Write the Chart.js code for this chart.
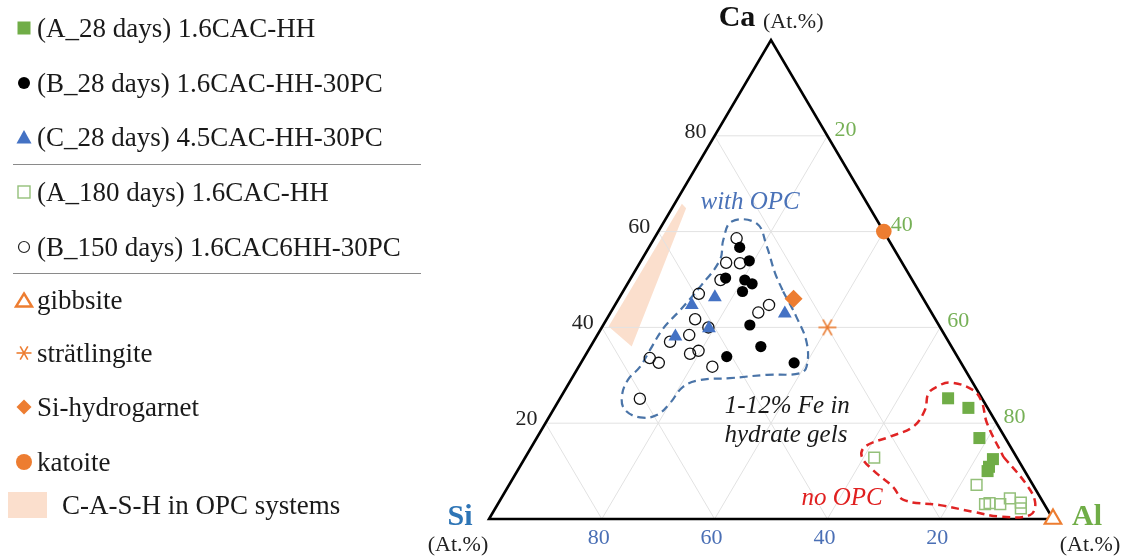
<!DOCTYPE html>
<html>
<head>
<meta charset="utf-8">
<script src="https://cdn.jsdelivr.net/npm/chart.js@4.4.1/dist/chart.umd.min.js"></script>
<style>
  html, body { margin: 0; padding: 0; background: #fff; }
  #wrap { position: relative; width: 1123px; height: 557px; overflow: hidden; font-family: 'Liberation Serif', 'Times New Roman', serif; }
  #ternary { position: absolute; left: 0; top: 0; }
  .key { position: absolute; left: 0; height: 30px; line-height: 30px; font-size: 27px; color: #1a1a1a; white-space: nowrap; }
  .key svg { position: absolute; top: 6px; }
  .key span { position: absolute; left: 37px; top: 0; }
  .rule { position: absolute; left: 13px; width: 408px; height: 0; border-top: 1.5px solid #8a8a8a; }
  .cash { position: absolute; left: 8px; top: 492px; width: 39px; height: 26px; background: #fbdfcd; }
</style>
</head>
<body>
<div id="wrap">
  <canvas id="ternary" width="1123" height="557"></canvas>

  <div class="key" style="top:13px">
    <svg width="18" height="18" style="left:15px"><rect x="2.5" y="2.5" width="13" height="13" fill="#70ad47"/></svg>
    <span>(A_28 days) 1.6CAC-HH</span>
  </div>
  <div class="key" style="top:68px">
    <svg width="18" height="18" style="left:15px"><circle cx="9" cy="9" r="6" fill="#000"/></svg>
    <span>(B_28 days) 1.6CAC-HH-30PC</span>
  </div>
  <div class="key" style="top:122px">
    <svg width="18" height="18" style="left:15px"><polygon points="9,2 16.5,15.5 1.5,15.5" fill="#4472c4"/></svg>
    <span>(C_28 days) 4.5CAC-HH-30PC</span>
  </div>
  <div class="rule" style="top:164px"></div>
  <div class="key" style="top:177px">
    <svg width="18" height="18" style="left:15px"><rect x="3" y="3" width="12" height="12" fill="none" stroke="#94c07a" stroke-width="1.4"/></svg>
    <span>(A_180 days) 1.6CAC-HH</span>
  </div>
  <div class="key" style="top:232px">
    <svg width="18" height="18" style="left:15px"><circle cx="9" cy="9" r="5.5" fill="none" stroke="#222" stroke-width="1.2"/></svg>
    <span>(B_150 days) 1.6CAC6HH-30PC</span>
  </div>
  <div class="rule" style="top:273px"></div>
  <div class="key" style="top:285px">
    <svg width="20" height="18" style="left:14px"><polygon points="10,2.5 18,15.5 2,15.5" fill="none" stroke="#ed7d31" stroke-width="2.4"/></svg>
    <span>gibbsite</span>
  </div>
  <div class="key" style="top:338px">
    <svg width="18" height="18" style="left:15px"><g stroke="#ed7d31" stroke-width="1.6"><line x1="1.5" y1="9" x2="16.5" y2="9"/><line x1="5.2" y1="2.4" x2="12.8" y2="15.6"/><line x1="12.8" y1="2.4" x2="5.2" y2="15.6"/></g></svg>
    <span>strätlingite</span>
  </div>
  <div class="key" style="top:392px">
    <svg width="18" height="18" style="left:15px"><polygon points="9,1.5 16.5,9 9,16.5 1.5,9" fill="#ed7d31"/></svg>
    <span>Si-hydrogarnet</span>
  </div>
  <div class="key" style="top:447px">
    <svg width="18" height="18" style="left:15px"><circle cx="9" cy="9" r="8" fill="#ed7d31"/></svg>
    <span>katoite</span>
  </div>
  <div class="cash"></div>
  <div class="key" style="top:490px"><span style="left:62px">C-A-S-H in OPC systems</span></div>
</div>

<script>
// Compositions in At.% : Ca and Al, Si is the remainder
const caA28 = [25.2, 23.2, 16.9, 12.5, 10.9, 10.0];
const alA28 = [68.8, 73.4, 78.5, 83.1, 83.2, 83.4];

const caB28 = [56.7, 53.9, 50.3, 49.9, 49.1, 47.5, 40.5, 36.0, 33.9, 32.6];
const alB28 = [16.1, 19.2, 16.8, 20.4, 22.1, 21.2, 26.0, 30.2, 25.2, 37.8];

const caC28 = [46.3, 44.7, 42.9, 39.8, 38.1];
const alC28 = [16.9, 13.6, 31.0, 19.1, 14.0];

const caA180 = [12.8, 7.1, 3.1, 3.3, 3.1, 4.3, 3.4, 2.2];
const alA180 = [61.9, 82.9, 86.4, 87.1, 89.1, 90.2, 92.6, 93.2];

const caB150 = [58.6, 53.5, 53.4, 49.9, 47.0, 44.7, 43.1, 41.7, 40.0, 38.4, 37.0, 35.1, 34.5, 31.8, 33.6, 32.6, 25.1];
const alB150 = [14.6, 15.3, 17.8, 16.1, 13.7, 27.3, 26.2, 15.7, 18.9, 16.3, 13.6, 19.6, 18.4, 23.7, 11.7, 13.8, 14.2];

// reference phases [Ca, Al]
const gibbsite = [0, 100];
const stratlingite = [40, 40];
const siHydrogarnet = [46, 31];
const katoite = [60, 40];

// C-A-S-H field of OPC systems
const cashCa = [65.8, 64.9, 36.0, 40.2];
const cashAl = [1.3, 2.5, 7.3, 1.1];

// outline of the hydrate gels with OPC
const withOpcCa = [47.5, 42.2, 36.7, 31.8, 30.4, 30.1, 29.4, 29.0, 27.6, 24.2, 21.7, 21.2, 22.8, 25.5, 29.0, 31.8, 35.3, 39.8, 43.6, 48.5, 54.1, 58.3, 62.1, 61.7, 56.9, 51.4];
const withOpcAl = [28.4, 33.4, 38.0, 40.4, 39.9, 34.2, 28.0, 22.9, 20.6, 20.0, 18.9, 16.2, 12.7, 10.8, 10.1, 10.9, 10.9, 11.0, 12.1, 13.2, 13.9, 12.4, 12.0, 16.6, 20.8, 25.0];

// outline of the gels without OPC
const noOpcCa = [13.0, 7.1, 3.3, 0.8, 0.5, 1.5, 2.9, 4.0, 6.7, 10.2, 13.0, 15.1, 17.2, 19.3, 22.8, 26.2, 27.6, 28.5, 26.9, 24.5, 20.0];
const noOpcAl = [84.7, 91.8, 95.2, 95.5, 90.4, 85.1, 78.5, 71.5, 68.3, 63.0, 59.6, 59.1, 62.5, 65.6, 65.9, 64.8, 65.6, 67.5, 72.4, 75.1, 78.3];

const tickValues = [20, 40, 60, 80];

// ternary (Ca, Al) -> cartesian with Si at the origin and Ca at the apex
function toXY(ca, al) {
  return { x: al + ca / 2, y: ca };
}

function points(caList, alList) {
  return caList.map((ca, i) => toXY(ca, alList[i]));
}

function closed(caList, alList) {
  const pts = points(caList, alList);
  pts.push(pts[0]);
  return pts;
}

function asteriskIcon(size, color) {
  const c = document.createElement('canvas');
  c.width = c.height = size;
  const g = c.getContext('2d');
  g.strokeStyle = color;
  g.lineWidth = 1.6;
  const m = size / 2, r = size / 2 - 1;
  for (let k = 0; k < 3; k++) {
    const a = k * Math.PI / 3;
    g.beginPath();
    g.moveTo(m - r * Math.cos(a), m - r * Math.sin(a));
    g.lineTo(m + r * Math.cos(a), m + r * Math.sin(a));
    g.stroke();
  }
  return c;
}

function gridLines() {
  const sets = [];
  tickValues.forEach(v => {
    sets.push([toXY(v, 0), toXY(v, 100 - v)]);       // constant Ca
    sets.push([toXY(0, v), toXY(100 - v, v)]);       // constant Al
    sets.push([toXY(0, 100 - v), toXY(100 - v, 0)]); // constant Si
  });
  return sets.map(data => ({
    type: 'line', data, borderColor: '#e2e2e2', borderWidth: 1,
    pointRadius: 0, fill: false, order: 5, clip: false
  }));
}

const serif = "'Liberation Serif', 'Times New Roman', serif";

const labelPlugin = {
  id: 'ternaryLabels',
  afterDatasetsDraw(chart) {
    const { ctx, scales: { x, y } } = chart;
    const px = (ca, al) => [x.getPixelForValue(al + ca / 2), y.getPixelForValue(ca)];
    ctx.save();
    ctx.textBaseline = 'middle';

    ctx.font = '22px ' + serif;
    tickValues.forEach(v => {
      // Ca along the left edge
      let [lx, ly] = px(v, 0);
      ctx.fillStyle = '#222';
      ctx.textAlign = 'right';
      ctx.fillText(String(v), lx - 8, ly - 4);

      // Al along the right edge
      [lx, ly] = px(100 - v, v);
      ctx.fillStyle = '#76b056';
      ctx.textAlign = 'left';
      ctx.fillText(String(v), lx + 7, ly - 6);

      // Si along the base
      [lx, ly] = px(0, 100 - v);
      ctx.fillStyle = '#4a6fb5';
      ctx.textAlign = 'center';
      ctx.fillText(String(v), lx - 3, ly + 19);
    });

    // vertex names
    const [cx, cy] = px(100, 0);
    const [sx, sy] = px(0, 0);
    const [ax, ay] = px(0, 100);
    ctx.font = 'bold 30px ' + serif;
    ctx.textAlign = 'center';
    ctx.fillStyle = '#111';
    ctx.fillText('Ca', cx - 34, cy - 22);
    ctx.fillStyle = '#2e75b6';
    ctx.fillText('Si', sx - 29, sy - 2);
    ctx.fillStyle = '#70ad47';
    ctx.fillText('Al', ax + 34, ay - 2);

    ctx.font = '22px ' + serif;
    ctx.fillStyle = '#222';
    ctx.textAlign = 'left';
    ctx.fillText('(At.%)', cx - 8, cy - 18);
    ctx.textAlign = 'center';
    ctx.fillText('(At.%)', sx - 31, sy + 26);
    ctx.fillText('(At.%)', ax + 37, ay + 26);

    // region notes
    ctx.font = 'italic 25px ' + serif;
    let p = px(66.0, 13.3);
    ctx.fillStyle = '#4a72b8';
    ctx.fillText('with OPC', p[0], p[1]);
    ctx.fillStyle = '#1a1a1a';
    p = px(23.4, 41.2);
    ctx.fillText('1-12% Fe in', p[0], p[1]);
    p = px(17.5, 43.9);
    ctx.fillText('hydrate gels', p[0], p[1]);
    ctx.fillStyle = '#e02020';
    p = px(4.4, 60.4);
    ctx.fillText('no OPC', p[0], p[1]);
    ctx.restore();
  }
};

const outlineBase = { type: 'line', pointRadius: 0, fill: false, clip: false, tension: 0.4, borderWidth: 2.2, borderDash: [8, 5] };
const markerBase = { clip: false, showLine: false, order: 0 };

new Chart(document.getElementById('ternary'), {
  type: 'scatter',
  data: {
    datasets: [
      { ...markerBase, label: '(A_28 days) 1.6CAC-HH', data: points(caA28, alA28),
        pointStyle: 'rect', pointRadius: 8.5, backgroundColor: '#70ad47', borderColor: '#70ad47', borderWidth: 0 },
      { ...markerBase, label: '(A_180 days) 1.6CAC-HH', data: points(caA180, alA180),
        pointStyle: 'rect', pointRadius: 7.6, backgroundColor: 'rgba(255,255,255,0)', borderColor: '#94c07a', borderWidth: 1.5 },
      { ...markerBase, label: '(B_28 days) 1.6CAC-HH-30PC', data: points(caB28, alB28),
        pointStyle: 'circle', pointRadius: 5.6, backgroundColor: '#000', borderColor: '#000', borderWidth: 0 },
      { ...markerBase, label: '(C_28 days) 4.5CAC-HH-30PC', data: points(caC28, alC28),
        pointStyle: 'triangle', pointRadius: 8, backgroundColor: '#4472c4', borderColor: '#4472c4', borderWidth: 0 },
      { ...markerBase, label: '(B_150 days) 1.6CAC6HH-30PC', data: points(caB150, alB150),
        pointStyle: 'circle', pointRadius: 5.6, backgroundColor: 'rgba(255,255,255,0)', borderColor: '#111', borderWidth: 1.3 },
      { ...markerBase, label: 'gibbsite', data: [toXY(...gibbsite)],
        pointStyle: 'triangle', pointRadius: 9.5, backgroundColor: '#fff', borderColor: '#ed7d31', borderWidth: 2.2 },
      { ...markerBase, label: 'strätlingite', data: [toXY(...stratlingite)],
        pointStyle: asteriskIcon(20, '#ed7d31') },
      { ...markerBase, label: 'Si-hydrogarnet', data: [toXY(...siHydrogarnet)],
        pointStyle: 'rectRot', pointRadius: 9, backgroundColor: '#ed7d31', borderColor: '#ed7d31', borderWidth: 0 },
      { ...markerBase, label: 'katoite', data: [toXY(...katoite)],
        pointStyle: 'circle', pointRadius: 7.8, backgroundColor: '#ed7d31', borderColor: '#ed7d31', borderWidth: 0 },

      { ...outlineBase, label: 'with OPC', data: closed(withOpcCa, withOpcAl), borderColor: '#4a74a8', order: 1 },
      { ...outlineBase, label: 'no OPC', data: closed(noOpcCa, noOpcAl), borderColor: '#e02424', borderWidth: 2.5, order: 1 },

      { type: 'line', label: 'frame', order: 2, clip: false, pointRadius: 0, fill: false,
        borderColor: '#000', borderWidth: 2.6, borderJoinStyle: 'miter', tension: 0,
        data: [toXY(0, 0), toXY(0, 100), toXY(100, 0), toXY(0, 0), toXY(0, 100)] },

      ...gridLines(),

      { type: 'line', label: 'C-A-S-H in OPC systems', order: 6, clip: false, pointRadius: 0,
        data: closed(cashCa, cashAl), fill: 'shape', backgroundColor: '#fbdfcd', borderWidth: 0, tension: 0 }
    ]
  },
  options: {
    responsive: false,
    animation: false,
    layout: { padding: { left: 489, right: 70, top: 40, bottom: 38 } },
    scales: {
      x: { type: 'linear', min: 0, max: 100, display: false },
      y: { type: 'linear', min: 0, max: 100, display: false }
    },
    plugins: {
      legend: { display: false },
      tooltip: { enabled: false }
    }
  },
  plugins: [labelPlugin]
});
</script>
</body>
</html>
